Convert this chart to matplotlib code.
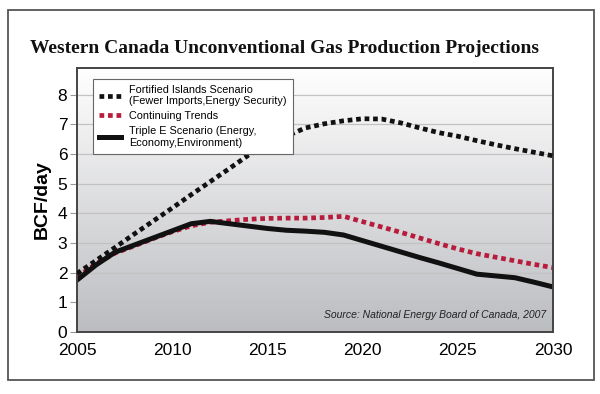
import numpy as np
import matplotlib
matplotlib.use("Agg")
import matplotlib.pyplot as plt
from matplotlib.patches import Rectangle

# values (BCF/day)
years = list(range(2005, 2031))
fortified = [1.97, 2.41, 2.85, 3.30, 3.74, 4.18, 4.63, 5.07, 5.51, 5.96,
             6.30, 6.60, 6.88, 7.02, 7.12, 7.19, 7.18, 7.05, 6.88, 6.72,
             6.60, 6.45, 6.31, 6.18, 6.06, 5.94]
continuing = [1.85, 2.30, 2.66, 2.90, 3.15, 3.38, 3.58, 3.70, 3.75, 3.80,
              3.83, 3.84, 3.84, 3.86, 3.90, 3.72, 3.54, 3.36, 3.17, 2.98,
              2.80, 2.64, 2.52, 2.40, 2.28, 2.17]
triple_e = [1.75, 2.26, 2.69, 2.93, 3.17, 3.41, 3.65, 3.73, 3.65, 3.57,
            3.49, 3.43, 3.40, 3.36, 3.27, 3.08, 2.89, 2.70, 2.51, 2.33,
            2.14, 1.95, 1.89, 1.83, 1.68, 1.52]
xticks = [2005, 2010, 2015, 2020, 2025, 2030]
yticks = list(range(0, 9))

labels = ["Fortified Islands Scenario\n(Fewer Imports,Energy Security)",
          "Continuing Trends",
          "Triple E Scenario (Energy,\nEconomy,Environment)"]

plt.rcParams['font.family'] = ['Liberation Sans', 'DejaVu Sans']

fig = plt.figure(figsize=(6.0, 3.94), dpi=100)
W, H = 600, 394

# outer frame
fig.patches.append(Rectangle((8 / W, 1 - 380 / H), 586 / W, 370 / H,
                             transform=fig.transFigure, fill=False,
                             edgecolor='#555555', linewidth=1.3))

fig.text(30 / W, 1 - 53 / H, "Western Canada Unconventional Gas Production Projections",
         family=['Liberation Serif'], fontweight='bold', fontsize=14,
         color='#111111', ha='left', va='baseline')

ax = fig.add_axes([77 / W, 1 - 332 / H, 476 / W, 264 / H])
ax.set_xlim(2005, 2030)
ax.set_ylim(0, 8.9)

# white-to-grey background gradient
grad = np.linspace(0, 1, 256).reshape(-1, 1)
ax.imshow(grad, extent=[0, 1, 0, 1], transform=ax.transAxes, aspect='auto',
          cmap=matplotlib.colors.LinearSegmentedColormap.from_list(
              'bg', ['#bcbdc1', '#ffffff']), origin='lower', zorder=0)

for v in yticks[1:]:
    ax.axhline(v, color='#c2c2c2', linewidth=0.9, zorder=1)

ax.plot(years, fortified, color='#111111', linewidth=3.4,
        linestyle=(0, (1, 0.8)), dash_capstyle='butt', zorder=3, label=labels[0])
ax.plot(years, continuing, color='#b81c3c', linewidth=3.4,
        linestyle=(0, (1, 0.8)), dash_capstyle='butt', zorder=2, label=labels[1])
ax.plot(years, triple_e, color='#111111', linewidth=3.6,
        solid_joinstyle='miter', zorder=2.5, label=labels[2])

ax.set_xticks(xticks)
ax.set_yticks(yticks)
ax.tick_params(axis='x', length=0, pad=8, labelsize=12.5)
ax.tick_params(axis='y', length=5, width=0.8, color='#999999', pad=2, labelsize=12.5)
for sp in ax.spines.values():
    sp.set_color('#444444')
    sp.set_linewidth(1.4)

ax.set_ylabel("BCF/day", fontsize=14, fontweight='bold', labelpad=5)

leg = ax.legend(loc='upper left', bbox_to_anchor=(0.022, 0.98), fontsize=7.8,
                frameon=True, fancybox=False, edgecolor='#666666',
                handlelength=2.0, handletextpad=0.8, borderpad=0.55,
                labelspacing=0.45)
leg.get_frame().set_linewidth(0.8)
leg.get_frame().set_facecolor('white')
leg.get_frame().set_alpha(1)

ax.text(0.985, 0.045, "Source: National Energy Board of Canada, 2007",
        transform=ax.transAxes, ha='right', va='bottom', fontsize=7.5,
        style='italic', color='#222222', zorder=4)

fig.savefig("out.png", dpi=100)
